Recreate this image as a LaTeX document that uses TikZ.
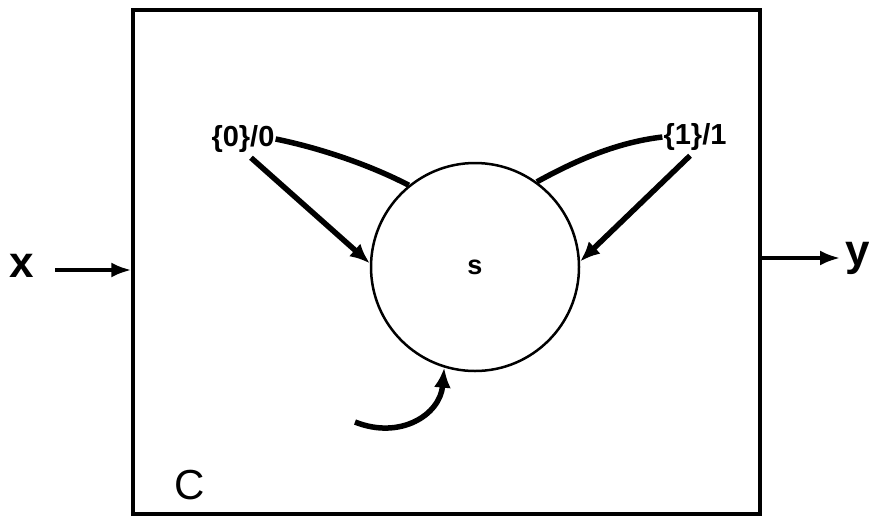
\documentclass[tikz,border=0pt]{standalone}
\usepackage{fontspec}
\setmainfont{Liberation Sans}
\usetikzlibrary{arrows.meta}
\begin{document}
\begin{tikzpicture}[x=1pt,y=-1pt,
  lbl/.style={font=\fontsize{29}{29}\selectfont\bfseries, inner sep=1pt},
  thick arrow/.style={line width=5.5pt,-{Latex[length=20pt,width=17pt]}},
  thick line/.style={line width=5.5pt},
  io arrow/.style={line width=3.5pt,-{Latex[length=20pt,width=15pt]}}]
\useasboundingbox (0,0) rectangle (869,523);
\node[draw, line width=3.5pt, minimum width=627pt, minimum height=504pt, inner sep=0pt] (box) at (446.5,262) {};
\node[draw, circle, line width=2.5pt, minimum size=208pt, inner sep=0pt, font=\fontsize{27}{27}\selectfont\bfseries] (s) at (475,267) {s};
\node[lbl] (l0) at (243,139) {\{0\}/0};
\node[lbl] (l1) at (695,137) {\{1\}/1};
\node[font=\fontsize{44}{44}\selectfont\bfseries, anchor=center] (x) at (22,266) {x};
\node[font=\fontsize{44}{44}\selectfont\bfseries, anchor=center] (y) at (858,258) {y};
\node[font=\fontsize{42}{42}\selectfont] (c) at (190,485) {C};
\coordinate (xs) at (55,270);
\coordinate (ye) at (840,258);
\coordinate (bs) at (355,422);
\draw[io arrow] (xs) -- (xs -| box.west);
\draw[io arrow] (ye -| box.east) -- (ye);
\draw[thick line] (l0.east) .. controls (320,148) and (370,165) .. (s.129);
\draw[thick arrow] ([xshift=8pt,yshift=-4pt]l0.south) -- (s.178);
\draw[thick line] (l1.west) .. controls (620,142) and (580,158) .. (s.54);
\draw[thick arrow] ([xshift=-5pt,yshift=-4pt]l1.south) -- (s.3);
\draw[thick arrow] (bs) .. controls (400,440) and (440,415) .. (s.253);
\end{tikzpicture}
\end{document}
